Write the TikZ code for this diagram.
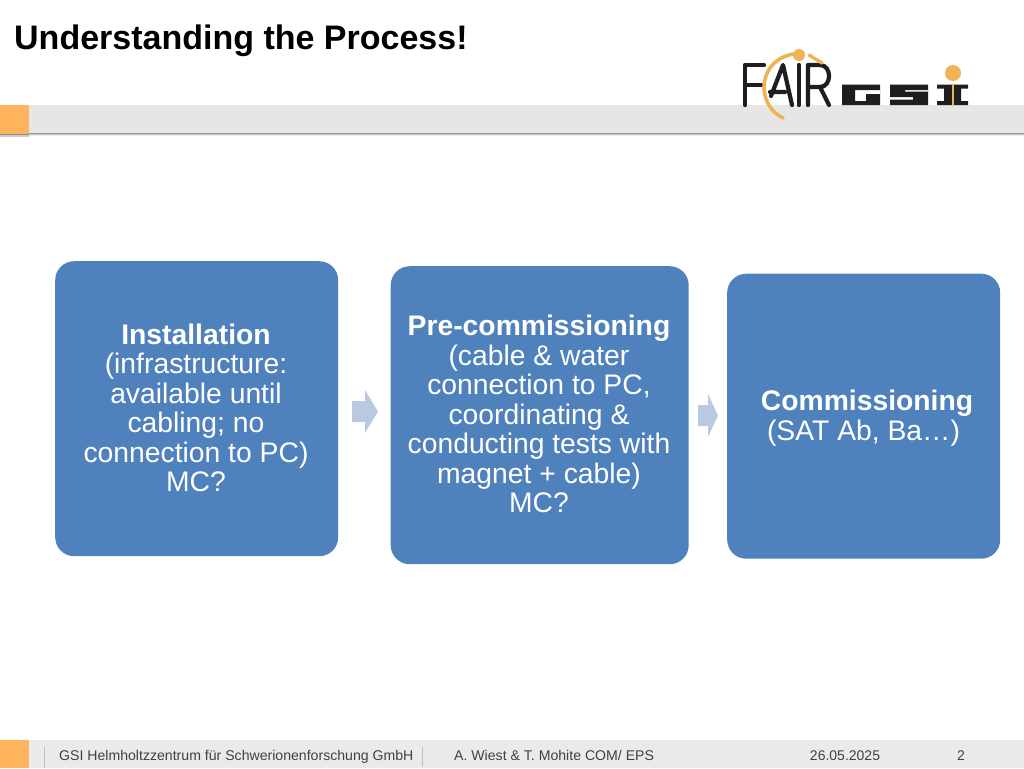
\documentclass[tikz,border=0pt]{standalone}
\usepackage{fontspec}
\setmainfont{Liberation Sans}
\definecolor{boxblue}{HTML}{4F81BD}
\definecolor{arrowblue}{HTML}{B9C9E1}
\definecolor{bandgrey}{HTML}{E6E6E6}
\definecolor{footgrey}{HTML}{EAEAEA}
\definecolor{accent}{HTML}{FDB45C}
\definecolor{logoorange}{HTML}{EDB354}
\definecolor{logoblack}{HTML}{1E1E1E}
\definecolor{foot}{HTML}{404040}
\tikzset{
 stagebox/.style={fill=boxblue,draw=none,rounded corners=19pt,anchor=north west,inner sep=0pt},
 stagetext/.style={text=white,font=\fontsize{28.3}{29.5}\selectfont,align=center,inner sep=0pt,anchor=center},
 foottext/.style={text=foot,font=\fontsize{14.1}{16}\selectfont,inner sep=0pt},
 fairline/.style={draw=logoblack,line width=4.2pt,line cap=round,line join=round},
 gsibar/.style={fill=logoblack,draw=none},
}
\begin{document}
\begin{tikzpicture}[x=1pt,y=-1pt]
\useasboundingbox (0,0) rectangle (1024,768);
\fill[white] (0,0) rectangle (1024,768);
% top band
\fill[black!40] (0,133) rectangle (1024,134);
\fill[black!22] (0,134) rectangle (1024,135);
\fill[black!8] (0,135) rectangle (1024,136);
\fill[bandgrey] (0,105) rectangle (1024,133);
\fill[black!45] (0,133) rectangle (29,135);
\fill[black!20] (0,135) rectangle (29,136.5);
\fill[accent] (0,105) rectangle (29,134);
\node[anchor=west,inner sep=0pt,font=\fontsize{34}{36}\selectfont\bfseries,text=black] (title) at (14,41) {Understanding the Process!};
% FAIR logo
\draw[fairline] (764,65) -- (745,65) -- (745,105) (745,85) -- (763,85);
\draw[fairline] (771,96) -- (783,65) -- (792,105) (770,92) -- (785,92);
\draw[fairline] (799,65) -- (799,105);
\draw[fairline] (808,105) -- (808,65) -- (820,65) .. controls (832,65) and (832,87) .. (820,87) -- (808,87) (820,87) -- (829,105);
\draw[draw=logoorange,line width=3.6pt,line cap=round] (793,54) .. controls (772,58) and (764,74) .. (764,87) .. controls (764,101) and (772,113) .. (783,118);
\draw[draw=logoorange,line width=3.4pt,line cap=round] (809,55) -- (822,63);
\fill[logoorange] (799,55) circle (6);
% GSI logo
\fill[gsibar,even odd rule] (842,84.5) rectangle (880,105) (855,90) -- (880,90) -- (880,94) -- (866,94) -- (866,101) -- (855,101) -- cycle;
\fill[gsibar] (890,84.5) rectangle (928,90) (890,84.5) rectangle (905,93) (890,91.5) rectangle (928,97) (913,91.5) rectangle (928,105) (890,99.5) rectangle (928,105);
\fill[gsibar] (937,84.5) rectangle (968,88.5) (937,101) rectangle (968,105) (944,84.5) rectangle (961,105);
\fill[logoorange] (952,84.5) rectangle (954,105);
\fill[logoorange] (953,73) circle (8);
% stages
\node[stagebox,minimum width=283pt,minimum height=295pt] (s1) at (55,261) {};
\node[stagebox,minimum width=298pt,minimum height=298pt] (s2) at (390.5,266) {};
\node[stagebox,minimum width=273pt,minimum height=285pt] (s3) at (727,273.5) {};
\node[stagetext] (t1) at (196,408) {\textbf{Installation}\\(infrastructure:\\available until\\cabling; no\\connection to PC)\\MC?};
\node[stagetext] (t2) at (539,414) {\textbf{Pre-commissioning}\\(cable \& water\\connection to PC,\\coordinating \&\\conducting tests with\\magnet + cable)\\MC?};
\node[stagetext] (t3) at (867,418) {\textbf{Commissioning}\\\hspace*{-7pt}(SAT Ab, Ba…)};
% arrows
\fill[arrowblue] (352,401) -- (365,401) -- (365,390) -- (378,411.5) -- (365,433) -- (365,422) -- (352,422) -- cycle;
\fill[arrowblue] (698,405) -- (708,405) -- (708,394) -- (718,415.5) -- (708,437) -- (708,426) -- (698,426) -- cycle;
% footer
\fill[footgrey] (0,740) rectangle (1024,768);
\fill[accent] (0,740) rectangle (29,768);
\fill[black!25] (44,747) rectangle (45.2,768);
\fill[black!25] (422,747) rectangle (423.2,768);
\fill[black!8] (45,766.8) rectangle (423,768);
\node[foottext,anchor=base west] (f1) at (59,760) {GSI Helmholtzzentrum für Schwerionenforschung GmbH};
\node[foottext,anchor=base west] (f2) at (454,760) {A. Wiest \& T. Mohite COM/ EPS};
\node[foottext,anchor=base,font=\fontsize{14}{15}\selectfont] (f3) at (845,760) {26.05.2025};
\node[foottext,anchor=base,font=\fontsize{14}{15}\selectfont] (f4) at (961,760) {2};
\end{tikzpicture}
\end{document}
